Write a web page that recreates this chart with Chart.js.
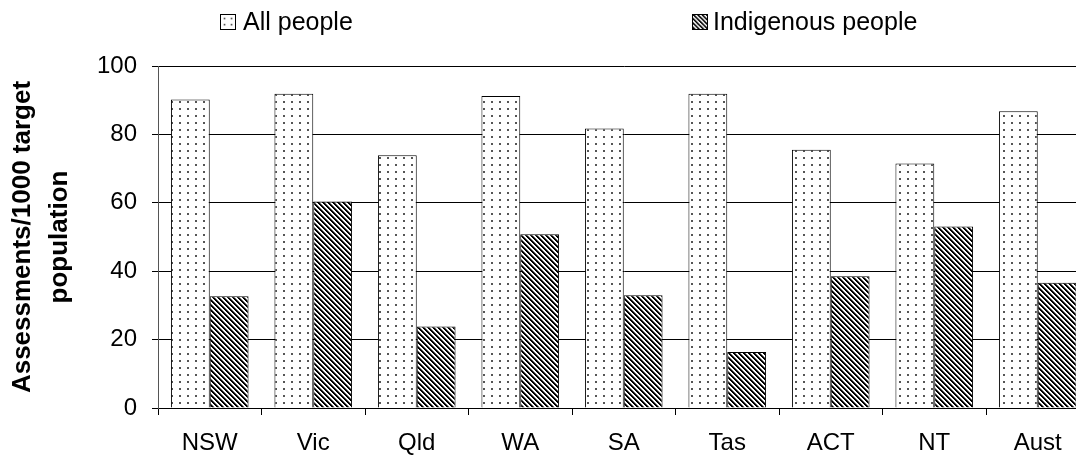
<!DOCTYPE html>
<html>
<head>
<meta charset="utf-8">
<script src="https://cdn.jsdelivr.net/npm/chart.js@4/dist/chart.umd.min.js"></script>
<style>
  html, body { margin: 0; padding: 0; background: #fff; overflow: hidden; }
  #wrap { position: relative; width: 1076px; height: 459px; overflow: hidden; }
  #chart { position: absolute; left: 0; top: 0; }
  .leg { position: absolute; top: 9px; font: 25px "Liberation Sans", Arial, sans-serif; line-height: 25px; color: #000; white-space: nowrap; }
  .swatch { position: absolute; top: 14px; width: 16px; height: 16px; box-sizing: border-box; border: 1px solid #000; }
</style>
</head>
<body>
<div id="wrap">
  <canvas id="chart" width="1100" height="459"></canvas>
  <canvas class="swatch" id="sw-all" width="16" height="16" style="left:220px"></canvas>
  <div class="leg" style="left:243px">All people</div>
  <canvas class="swatch" id="sw-ind" width="16" height="16" style="left:692px"></canvas>
  <div class="leg" style="left:713px">Indigenous people</div>
</div>
<script>
const states = ["NSW", "Vic", "Qld", "WA", "SA", "Tas", "ACT", "NT", "Aust"];
const allPeople = [90.2, 91.9, 73.9, 91.2, 81.7, 91.9, 75.5, 71.5, 86.8];
const indigenous = [32.7, 60.4, 23.8, 50.8, 33.0, 16.4, 38.5, 53.1, 36.6];
const yTicks = [0, 20, 40, 60, 80, 100];

const FONT = '"Liberation Sans", Arial, sans-serif';

function dotPattern(ctx) {
  const c = document.createElement("canvas");
  c.width = 8; c.height = 7;
  const g = c.getContext("2d");
  g.fillStyle = "#fff";
  g.fillRect(0, 0, 8, 7);
  g.fillStyle = "#555";
  g.fillRect(3, 3, 2, 2);
  return ctx.createPattern(c, "repeat");
}

// diagonal "\" stripes, 5px period
function hatchPattern(ctx) {
  const n = 5;
  const c = document.createElement("canvas");
  c.width = n; c.height = n;
  const g = c.getContext("2d");
  const img = g.createImageData(n, n);
  const shade = [0, 0, 110, 255, 255];
  for (let y = 0; y < n; y++) {
    for (let x = 0; x < n; x++) {
      const k = ((x - y) % n + n) % n;
      const v = shade[k];
      const i = (y * n + x) * 4;
      img.data[i] = v; img.data[i + 1] = v; img.data[i + 2] = v; img.data[i + 3] = 255;
    }
  }
  g.putImageData(img, 0, 0);
  return ctx.createPattern(c, "repeat");
}

// legend swatches
const swA = document.getElementById("sw-all").getContext("2d");
swA.fillStyle = dotPattern(swA);
swA.fillRect(0, 0, 16, 16);
const swI = document.getElementById("sw-ind").getContext("2d");
swI.fillStyle = hatchPattern(swI);
swI.fillRect(0, 0, 16, 16);

const ctx = document.getElementById("chart").getContext("2d");

new Chart(ctx, {
  type: "bar",
  data: {
    labels: states,
    datasets: [
      { label: "All people", data: allPeople, backgroundColor: dotPattern(ctx), borderColor: "#000", borderWidth: 1 },
      { label: "Indigenous people", data: indigenous, backgroundColor: hatchPattern(ctx), borderColor: "#000", borderWidth: 1 }
    ]
  },
  options: {
    responsive: false,
    animation: false,
    events: [],
    layout: { padding: { top: 66, right: 10.5, bottom: 0, left: 0 } },
    datasets: { bar: { barPercentage: 1, categoryPercentage: 0.75 } },
    plugins: {
      legend: { display: false },
      tooltip: { enabled: false }
    },
    scales: {
      x: {
        grid: { offset: true, drawOnChartArea: false, drawTicks: true, tickLength: 7, color: "#000" },
        border: { color: "#000" },
        ticks: { color: "#000", font: { family: FONT, size: 24 }, padding: 14, maxRotation: 0 },
        afterFit: s => { s.height = 51; }
      },
      y: {
        min: 0,
        max: 100,
        afterBuildTicks: s => { s.ticks = yTicks.map(v => ({ value: v })); },
        grid: { color: "#000", tickLength: 6 },
        border: { color: "#555" },
        ticks: { color: "#000", font: { family: FONT, size: 24 }, padding: 15 },
        title: {
          display: true,
          text: ["Assessments/1000 target", "population"],
          color: "#000",
          font: { family: FONT, size: 26, weight: "bold", lineHeight: 1.44 },
          padding: { top: 4, bottom: 0 }
        },
        afterFit: s => { s.width = 158; }
      }
    }
  }
});
</script>
</body>
</html>
